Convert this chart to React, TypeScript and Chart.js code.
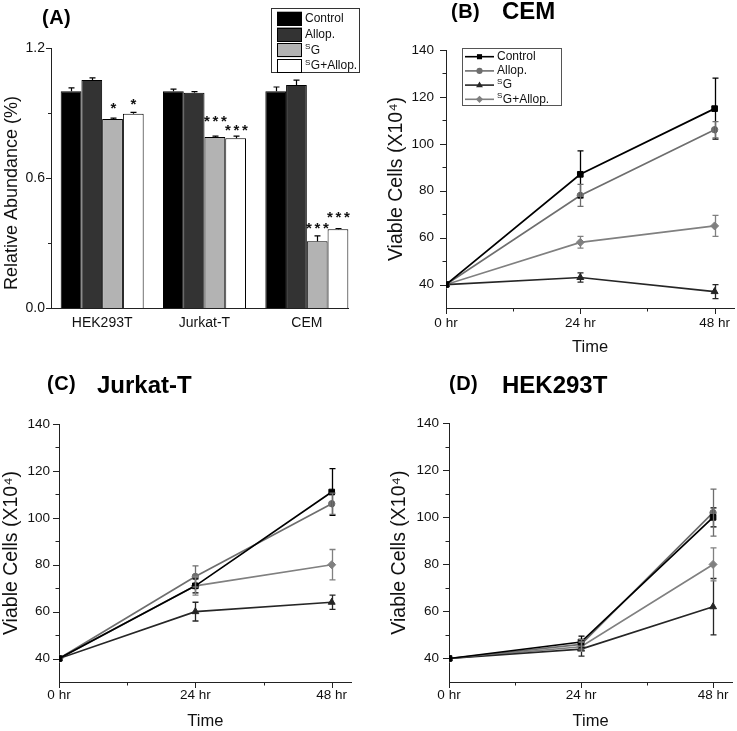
import React, { useEffect, useRef } from 'react';
import { Chart, registerables } from 'chart.js';

Chart.register(...registerables);

const FONT = "'Liberation Sans', Arial, Helvetica, sans-serif";

// ---------------- data ----------------
const seriesNames = ['Control', 'Allop.', 'ˢG', 'ˢG+Allop.'];

// Panel A: relative abundance
const barCategories = ['HEK293T', 'Jurkat-T', 'CEM'];
const abundControl = [1.0, 1.0, 1.0];
const abundAllop = [1.052, 0.994, 1.029];
const abundSG = [0.872, 0.789, 0.308];
const abundSGAllop = [0.897, 0.783, 0.363];
const abundErrControl = [0.016, 0.01, 0.02];
const abundErrAllop = [0.01, 0.005, 0.023];
const abundErrSG = [0.004, 0.004, 0.025];
const abundErrSGAllop = [0.006, 0.01, 0.004];
const sigSG = ['*', '***', '***'];
const sigSGAllop = ['*', '***', '***'];
const abundanceTicks = [0, 0.3, 0.6, 0.9, 1.2];
const abundanceTickLabels = ['0.0', '', '0.6', '', '1.2'];

// Panels B-D: viable cells over time
const timePoints = [0, 24, 48];
const timeTicks = [0, 12, 24, 36, 48];
const timeTickLabels = ['0 hr', '', '24 hr', '', '48 hr'];
const cellTicks = [40, 50, 60, 70, 80, 90, 100, 110, 120, 130, 140];
const cellTickLabels = ['40', '', '60', '', '80', '', '100', '', '120', '', '140'];

// CEM
const cemControl = [40, 87, 115];
const cemAllop = [40, 78, 106];
const cemSG = [40, 43, 37];
const cemSGAllop = [40, 58, 65];
const cemErrControl = [0, 10, 13];
const cemErrAllop = [0, 4.7, 3.5];
const cemErrSG = [0, 2, 3];
const cemErrSGAllop = [0, 2.5, 4.5];

// Jurkat-T
const jurControl = [40, 71, 111];
const jurAllop = [40, 75, 106];
const jurSG = [40, 60, 64];
const jurSGAllop = [40, 71, 80];
const jurErrControl = [0, 3, 10];
const jurErrAllop = [0, 4.5, 4.5];
const jurErrSG = [0, 4, 3];
const jurErrSGAllop = [0, 4, 6.5];

// HEK293T
const hekControl = [40, 47, 100];
const hekAllop = [40, 46, 102];
const hekSG = [40, 44, 62];
const hekSGAllop = [40, 45, 80];
const hekErrControl = [0, 2.5, 4];
const hekErrAllop = [0, 2, 10];
const hekErrSG = [0, 3, 12];
const hekErrSGAllop = [0, 2, 7];

// ---------------- styles ----------------
const barColors = ['#000000', '#333333', '#b3b3b3', '#ffffff'];
const lineColors = ['#000000', '#6e6e6e', '#262626', '#808080'];
const pointShapes = ['rect', 'circle', 'triangle', 'rectRot'];
// vertical gap (px) between error-bar top and significance-mark baseline, per dataset / per bar
const markGaps = [[0, 0, 0], [0, 0, 0], [5, 10, 2.5], [3.5, 1.5, 6.5]];

// ---------------- helpers ----------------
function drawRichLabel(ctx: CanvasRenderingContext2D, text: string, x: number, y: number, size: number, color: string) {
  ctx.fillStyle = color;
  ctx.textAlign = 'left';
  ctx.textBaseline = 'middle';
  let t = text;
  let cx = x;
  if (t.startsWith('ˢ')) {
    ctx.font = `${Math.round(size * 0.66)}px ${FONT}`;
    ctx.fillText('S', cx, y - size * 0.3);
    cx += ctx.measureText('S').width + 0.5;
    t = t.slice(1);
  }
  ctx.font = `${size}px ${FONT}`;
  ctx.fillText(t, cx, y);
}

function drawMarker(ctx: CanvasRenderingContext2D, shape: string, x: number, y: number, r: number, color: string) {
  ctx.fillStyle = color;
  ctx.beginPath();
  if (shape === 'rect') {
    const s = r * Math.SQRT1_2;
    ctx.rect(x - s, y - s, 2 * s, 2 * s);
  } else if (shape === 'circle') {
    ctx.arc(x, y, r * 0.85, 0, Math.PI * 2);
  } else if (shape === 'triangle') {
    ctx.moveTo(x, y - r);
    ctx.lineTo(x + r * 0.95, y + r * 0.6);
    ctx.lineTo(x - r * 0.95, y + r * 0.6);
    ctx.closePath();
  } else {
    ctx.moveTo(x, y - r);
    ctx.lineTo(x + r, y);
    ctx.lineTo(x, y + r);
    ctx.lineTo(x - r, y);
    ctx.closePath();
  }
  ctx.fill();
}

const tickMarksPlugin = {
  id: 'tickMarks',
  afterDraw(chart: any, _args: any, opts: any) {
    const ctx = chart.ctx;
    const ys = chart.scales.y;
    const xs = chart.scales.x;
    ctx.save();
    ctx.strokeStyle = opts.color || '#222';
    ctx.lineWidth = 1;
    ctx.beginPath();
    if (opts.y) {
      ys.ticks.forEach((t: any) => {
        const p = Math.round(ys.getPixelForValue(t.value)) + 0.5;
        const len = t.label ? opts.major : opts.minor;
        ctx.moveTo(ys.right - len, p);
        ctx.lineTo(ys.right, p);
      });
    }
    if (opts.x) {
      xs.ticks.forEach((t: any) => {
        const p = Math.round(xs.getPixelForValue(t.value)) + 0.5;
        const len = t.label ? opts.major : opts.minor;
        ctx.moveTo(p, xs.top);
        ctx.lineTo(p, xs.top + len);
      });
    }
    if (opts.xLine) {
      const y = Math.round(chart.chartArea.bottom) + 0.5;
      ctx.moveTo(chart.chartArea.left, y);
      ctx.lineTo(chart.chartArea.right - (opts.xLineInset || 0), y);
    }
    ctx.stroke();
    ctx.restore();
  },
};

const errorBarsPlugin = {
  id: 'errorBars',
  afterDatasetsDraw(chart: any, _args: any, opts: any) {
    const ctx = chart.ctx;
    const ys = chart.scales.y;
    ctx.save();
    chart.data.datasets.forEach((ds: any, i: number) => {
      const meta = chart.getDatasetMeta(i);
      const errs = ds.errors || [];
      meta.data.forEach((el: any, j: number) => {
        const raw = ds.data[j];
        const v = typeof raw === 'number' ? raw : raw.y;
        const e = errs[j];
        const x = Math.round(el.x) + 0.5;
        let top = el.y;
        if (e) {
          top = ys.getPixelForValue(v + e);
          const bot = opts.upOnly ? el.y : ys.getPixelForValue(v - e);
          ctx.strokeStyle = ds.errorColor || ds.borderColor;
          ctx.lineWidth = opts.lineWidth || 1;
          ctx.beginPath();
          ctx.moveTo(x, bot);
          ctx.lineTo(x, top);
          ctx.moveTo(x - opts.cap, top);
          ctx.lineTo(x + opts.cap, top);
          if (!opts.upOnly) {
            ctx.moveTo(x - opts.cap, bot);
            ctx.lineTo(x + opts.cap, bot);
          }
          ctx.stroke();
        }
        const mark = ds.marks && ds.marks[j];
        if (mark) {
          const gap = opts.markGaps ? opts.markGaps[i][j] : 5;
          ctx.fillStyle = '#111';
          ctx.font = `bold ${opts.markSize}px ${FONT}`;
          ctx.textAlign = 'center';
          ctx.textBaseline = 'alphabetic';
          const n = mark.length;
          for (let k = 0; k < n; k++) {
            const mx = x + (k - (n - 1) / 2) * opts.markSpacing;
            ctx.fillText(mark[k], mx, top - gap);
          }
        }
      });
    });
    ctx.restore();
  },
};

const boxLegendPlugin = {
  id: 'boxLegend',
  afterDraw(chart: any, _args: any, o: any) {
    const ctx = chart.ctx;
    ctx.save();
    ctx.strokeStyle = o.borderColor;
    ctx.lineWidth = 1;
    ctx.strokeRect(Math.round(o.x) + 0.5, Math.round(o.y) + 0.5, o.w, o.h);
    chart.data.datasets.forEach((ds: any, i: number) => {
      const cy = o.y + o.firstRow + i * o.rowGap;
      if (o.kind === 'bar') {
        ctx.fillStyle = ds.backgroundColor;
        ctx.fillRect(o.swatchX, cy - o.swatchH / 2, o.swatchW, o.swatchH);
        ctx.strokeStyle = '#000';
        ctx.strokeRect(o.swatchX + 0.5, Math.round(cy - o.swatchH / 2) + 0.5, o.swatchW - 1, o.swatchH - 1);
      } else {
        ctx.strokeStyle = ds.borderColor;
        ctx.lineWidth = 1.6;
        ctx.beginPath();
        ctx.moveTo(o.lineX1, cy);
        ctx.lineTo(o.lineX2, cy);
        ctx.stroke();
        drawMarker(ctx, ds.pointStyle, (o.lineX1 + o.lineX2) / 2, cy, 3.6, ds.borderColor);
      }
      drawRichLabel(ctx, ds.label, o.textX, cy, o.fontSize, '#111');
    });
    ctx.restore();
  },
};

// ---------------- chart configs ----------------
function barConfig() {
  const vals = [abundControl, abundAllop, abundSG, abundSGAllop];
  const errs = [abundErrControl, abundErrAllop, abundErrSG, abundErrSGAllop];
  const marks = [[], [], sigSG, sigSGAllop];
  return {
    type: 'bar',
    data: {
      labels: barCategories,
      datasets: vals.map((v, i) => ({
        label: seriesNames[i],
        data: v,
        errors: errs[i],
        marks: marks[i],
        backgroundColor: barColors[i],
        borderColor: '#000',
        errorColor: '#000',
        borderWidth: 1,
        categoryPercentage: 0.811,
        barPercentage: 1.0,
      })),
    },
    options: {
      responsive: false,
      animation: false,
      devicePixelRatio: 1,
      events: [],
      layout: { padding: { top: 48, left: 0, right: 10, bottom: 0 }, autoPadding: false },
      plugins: {
        legend: { display: false },
        tooltip: { enabled: false },
        tickMarks: { y: true, x: false, major: 5, minor: 3, xLine: true, xLineInset: 9, color: '#222' },
        errorBars: { upOnly: true, cap: 3, lineWidth: 1.2, markSize: 15, markSpacing: 8.5, markGaps },
        boxLegend: {
          kind: 'bar', x: 271, y: 8, w: 88, h: 64, borderColor: '#333',
          firstRow: 10.7, rowGap: 15.8, swatchX: 277, swatchW: 25, swatchH: 14, textX: 305, fontSize: 12,
        },
      },
      scales: {
        x: {
          type: 'category',
          grid: { display: false, drawTicks: false },
          border: { display: false },
          ticks: { font: { size: 14, family: FONT }, color: '#111', padding: 7, maxRotation: 0, autoSkip: false },
          afterFit: (s: any) => { s.height = 37; },
        },
        y: {
          type: 'linear',
          min: 0,
          max: 1.2,
          afterBuildTicks: (s: any) => { s.ticks = abundanceTicks.map((v) => ({ value: v })); },
          grid: { display: false, drawTicks: false },
          border: { display: true, color: '#222', width: 1 },
          ticks: {
            callback: (_v: any, i: number) => abundanceTickLabels[i],
            font: { size: 14, family: FONT }, color: '#111', padding: 6, autoSkip: false,
          },
          title: {
            display: true, text: 'Relative Abundance (%)      ', color: '#111',
            font: { size: 18, family: FONT }, padding: { top: 1, bottom: 0 },
          },
          afterFit: (s: any) => { s.width = 51; },
        },
      },
    },
    plugins: [tickMarksPlugin, errorBarsPlugin, boxLegendPlugin],
  };
}

type LineLayout = {
  padTop: number; padRight: number; yWidth: number; xHeight: number;
  yTitlePad: number; yTickPad: number; xTitlePad: number; xTickPad: number; legend?: any;
};

function lineConfig(vals: number[][], errs: number[][], L: LineLayout) {
  const plugins: any = {
    legend: { display: false },
    tooltip: { enabled: false },
    tickMarks: { y: true, x: true, major: 6, minor: 3.5, color: '#222' },
    errorBars: { upOnly: false, cap: 3, lineWidth: 1.3, markSize: 14, markSpacing: 8 },
  };
  const pl: any[] = [tickMarksPlugin, errorBarsPlugin];
  if (L.legend) {
    plugins.boxLegend = L.legend;
    pl.push(boxLegendPlugin);
  }
  return {
    type: 'line',
    data: {
      datasets: vals.map((v, i) => ({
        label: seriesNames[i],
        data: timePoints.map((t, j) => ({ x: t, y: v[j] })),
        errors: errs[i],
        borderColor: lineColors[i],
        backgroundColor: lineColors[i],
        pointBackgroundColor: lineColors[i],
        pointBorderColor: lineColors[i],
        pointStyle: pointShapes[i],
        pointRadius: pointShapes[i] === 'circle' ? 3.2 : 4,
        pointBorderWidth: 1,
        borderWidth: 1.7,
        tension: 0,
        fill: false,
      })),
    },
    options: {
      responsive: false,
      animation: false,
      devicePixelRatio: 1,
      events: [],
      layout: { padding: { top: L.padTop, left: 0, right: L.padRight, bottom: 0 }, autoPadding: false },
      plugins,
      scales: {
        x: {
          type: 'linear',
          min: 0,
          max: 51.5,
          afterBuildTicks: (s: any) => { s.ticks = timeTicks.map((v) => ({ value: v })); },
          grid: { display: false, drawTicks: false },
          border: { display: true, color: '#222', width: 1 },
          ticks: {
            callback: (_v: any, i: number) => timeTickLabels[i],
            font: { size: 13.5, family: FONT }, color: '#111', padding: L.xTickPad, maxRotation: 0, autoSkip: false,
          },
          title: {
            display: true, text: 'Time', color: '#111',
            font: { size: 16.5, family: FONT }, padding: { top: 0, bottom: L.xTitlePad },
          },
          afterFit: (s: any) => { s.height = L.xHeight; },
        },
        y: {
          type: 'linear',
          min: 30,
          max: 140,
          afterBuildTicks: (s: any) => { s.ticks = cellTicks.map((v) => ({ value: v })); },
          grid: { display: false, drawTicks: false },
          border: { display: true, color: '#222', width: 1 },
          ticks: {
            callback: (_v: any, i: number) => cellTickLabels[i],
            font: { size: 13.5, family: FONT }, color: '#111', padding: L.yTickPad, autoSkip: false,
          },
          title: {
            display: true, text: 'Viable Cells (X10⁴)', color: '#111',
            font: { size: 19.5, family: FONT }, padding: { top: L.yTitlePad, bottom: 0 },
          },
          afterFit: (s: any) => { s.width = L.yWidth; },
        },
      },
    },
    plugins: pl,
  };
}

// ---------------- component ----------------
const panelLabel = (left: number, top: number, size: number, spacing = 0): React.CSSProperties => ({
  position: 'absolute', left, top, fontFamily: FONT, fontWeight: 'bold', fontSize: size,
  lineHeight: 1, whiteSpace: 'nowrap', color: '#000', letterSpacing: spacing,
});

export default function App() {
  const refA = useRef<HTMLCanvasElement>(null);
  const refB = useRef<HTMLCanvasElement>(null);
  const refC = useRef<HTMLCanvasElement>(null);
  const refD = useRef<HTMLCanvasElement>(null);

  useEffect(() => {
    const charts: Chart[] = [];
    charts.push(new Chart(refA.current as HTMLCanvasElement, barConfig() as any));
    charts.push(new Chart(refB.current as HTMLCanvasElement, lineConfig(
      [cemControl, cemAllop, cemSG, cemSGAllop],
      [cemErrControl, cemErrAllop, cemErrSG, cemErrSGAllop],
      {
        padTop: 50, padRight: 0, yWidth: 78, xHeight: 62, yTitlePad: 17, yTickPad: 12, xTitlePad: 13, xTickPad: 7,
        legend: {
          kind: 'line', x: 94, y: 48, w: 99, h: 57, borderColor: '#555',
          firstRow: 8.7, rowGap: 14.2, lineX1: 97, lineX2: 126, textX: 129, fontSize: 12,
        },
      },
    ) as any));
    charts.push(new Chart(refC.current as HTMLCanvasElement, lineConfig(
      [jurControl, jurAllop, jurSG, jurSGAllop],
      [jurErrControl, jurErrAllop, jurErrSG, jurErrSGAllop],
      { padTop: 54, padRight: 16.4, yWidth: 59, xHeight: 49, yTitlePad: 0, yTickPad: 9, xTitlePad: 0, xTickPad: 5 },
    ) as any));
    charts.push(new Chart(refD.current as HTMLCanvasElement, lineConfig(
      [hekControl, hekAllop, hekSG, hekSGAllop],
      [hekErrControl, hekErrAllop, hekErrSG, hekErrSGAllop],
      { padTop: 53.3, padRight: 4.7, yWidth: 81, xHeight: 49, yTitlePad: 20, yTickPad: 10, xTitlePad: 0, xTickPad: 5 },
    ) as any));
    return () => charts.forEach((c) => c.destroy());
  }, []);

  const cv = (left: number, top: number, w: number, h: number): React.CSSProperties => ({
    position: 'absolute', left, top, width: w, height: h,
  });

  return (
    <div style={{ position: 'absolute', left: 0, top: 0, width: 737, height: 731, background: '#fff', overflow: 'hidden' }}>
      <canvas ref={refA} width={368} height={345} style={cv(0, 0, 368, 345)} />
      <canvas ref={refB} width={369} height={370} style={cv(368, 0, 369, 370)} />
      <canvas ref={refC} width={368} height={361} style={cv(0, 370, 368, 361)} />
      <canvas ref={refD} width={369} height={361} style={cv(368, 370, 369, 361)} />
      <div style={panelLabel(42, 6.5, 20, 0.5)}>(A)</div>
      <div style={panelLabel(451, 1, 20, 0.5)}>(B)</div>
      <div style={panelLabel(502, -1, 24)}>CEM</div>
      <div style={panelLabel(47, 372.5, 20, 0.5)}>(C)</div>
      <div style={panelLabel(97, 372.7, 24)}>Jurkat-T</div>
      <div style={panelLabel(449, 373, 20, 0.5)}>(D)</div>
      <div style={panelLabel(502, 372.7, 24)}>HEK293T</div>
    </div>
  );
}
